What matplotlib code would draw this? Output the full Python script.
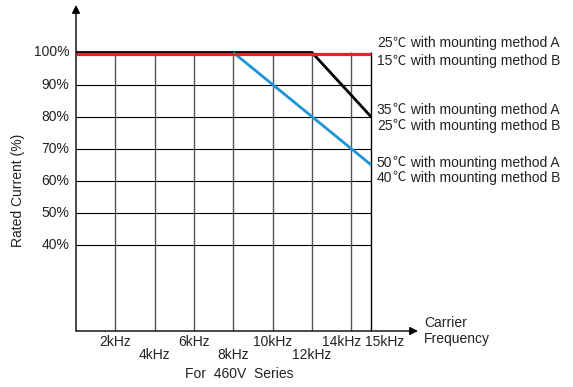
import matplotlib
matplotlib.use('Agg')
import matplotlib.pyplot as plt
import matplotlib.transforms as mtransforms

plt.rcParams['font.family'] = ['Liberation Sans', 'Noto Sans CJK SC', 'DejaVu Sans']

# derating curves (carrier kHz, rated current %)
red_x = [0, 15]
red_y = [100, 100]
black_x = [0, 12, 15]
black_y = [100, 100, 80]
blue_x = [8, 15]
blue_y = [100, 65]

y_ticks = [40, 50, 60, 70, 80, 90, 100]
y_labels = ['40%', '50%', '60%', '70%', '80%', '90%', '100%']
x_upper = [2, 6, 10, 14]
x_lower = [4, 8, 12]
grid_x = [2, 4, 6, 8, 10, 12, 14]

# (level, temp A, temp B)
notes = [(100, '25', '15'), (80, '35', '25'), (65, '50', '40')]
note_dy = [(9, -9), (7, -9), (2, -13)]  # pixel offsets of the two lines

fig = plt.figure(figsize=(5.73, 3.87), dpi=100)
ax = fig.add_axes([76/573, 1-331/387, 342/573, 326/387])
xmax = 17.39
ymin, ymax = 13.2, 114.8
ax.set_xlim(0, xmax)
ax.set_ylim(ymin, ymax)
ax.axis('off')

# grid
ax.hlines(y_ticks[:-1], 0, 15, color='black', lw=0.8, zorder=1)
ax.vlines(grid_x, ymin, 100, color='#555555', lw=1.0, zorder=1)
ax.vlines([15], ymin, 100, color='black', lw=1.0, zorder=1)

# axes with arrows
ax.annotate('', xy=(0, ymax), xytext=(0, ymin),
            arrowprops=dict(arrowstyle='-|>', color='black', lw=1.0,
                            mutation_scale=12, shrinkA=0, shrinkB=0))
ax.annotate('', xy=(xmax, ymin), xytext=(0, ymin),
            arrowprops=dict(arrowstyle='-|>', color='black', lw=1.0,
                            mutation_scale=12, shrinkA=0, shrinkB=0))

# curves
ax.plot(black_x, black_y, color='black', lw=2.0, zorder=3, solid_capstyle='butt')
ax.plot(blue_x, blue_y, color='#1b95d6', lw=2.0, zorder=4, solid_capstyle='butt')
red_tr = mtransforms.offset_copy(ax.transData, fig=fig, x=0, y=-2, units='dots')
ax.plot(red_x, red_y, color='#e1251f', lw=2.3, zorder=5, transform=red_tr,
        solid_capstyle='butt')

fs = 10
tc = '#222222'
for v, lab in zip(y_ticks, y_labels):
    ax.text(-0.35, v, lab, ha='right', va='center', fontsize=fs, color=tc)

def px_y(dy):
    return mtransforms.offset_copy(ax.transData, fig=fig, x=0, y=dy, units='dots')

for v in x_upper:
    xx = v - 0.5 if v == 14 else v
    ax.text(xx, ymin, f'{v}kHz', ha='center', va='center', fontsize=fs,
            color=tc, transform=px_y(-11))
for v in x_lower:
    ax.text(v, ymin, f'{v}kHz', ha='center', va='center', fontsize=fs,
            color=tc, transform=px_y(-24))
ax.text(15.7, ymin, '15kHz', ha='center', va='center', fontsize=fs,
        color=tc, transform=px_y(-11))

ax.text(8.3, ymin, 'For  460V  Series', ha='center', va='center', fontsize=fs,
        color=tc, transform=px_y(-43))
ax.text(xmax + 0.3, ymin, 'Carrier\nFrequency', ha='left', va='center',
        fontsize=fs, color=tc, linespacing=1.1, transform=px_y(0))

# notes: number + CJK degree sign + text, placed piece by piece
renderer = fig.canvas.get_renderer()

def put_line(x, y, dy, temp, rest):
    t1 = ax.text(x, y, temp, ha='left', va='center', fontsize=fs, color=tc,
                 transform=px_y(dy))
    w1 = t1.get_window_extent(renderer).x1
    x0 = ax.transData.transform((x, y))[0]
    t2 = ax.text(x, y, '\u2103', ha='left', va='center', fontsize=fs * 0.95,
                 color=tc, family='Noto Sans CJK SC',
                 transform=mtransforms.offset_copy(ax.transData, fig=fig,
                                                   x=w1 - x0, y=dy, units='dots'))
    w2 = t2.get_window_extent(renderer).x1
    ax.text(x, y, ' ' + rest, ha='left', va='center', fontsize=fs, color=tc,
            transform=mtransforms.offset_copy(ax.transData, fig=fig,
                                              x=w2 - x0 + 1, y=dy, units='dots'))

for (v, ta, tb), (da, db) in zip(notes, note_dy):
    put_line(15.3, v, da, ta, 'with mounting method A')
    put_line(15.3, v, db, tb, 'with mounting method B')

fig.text(18/573, 1-190/387, 'Rated Current (%)', rotation=90, ha='center',
         va='center', fontsize=fs, color=tc)

fig.savefig('out.png', dpi=100)
